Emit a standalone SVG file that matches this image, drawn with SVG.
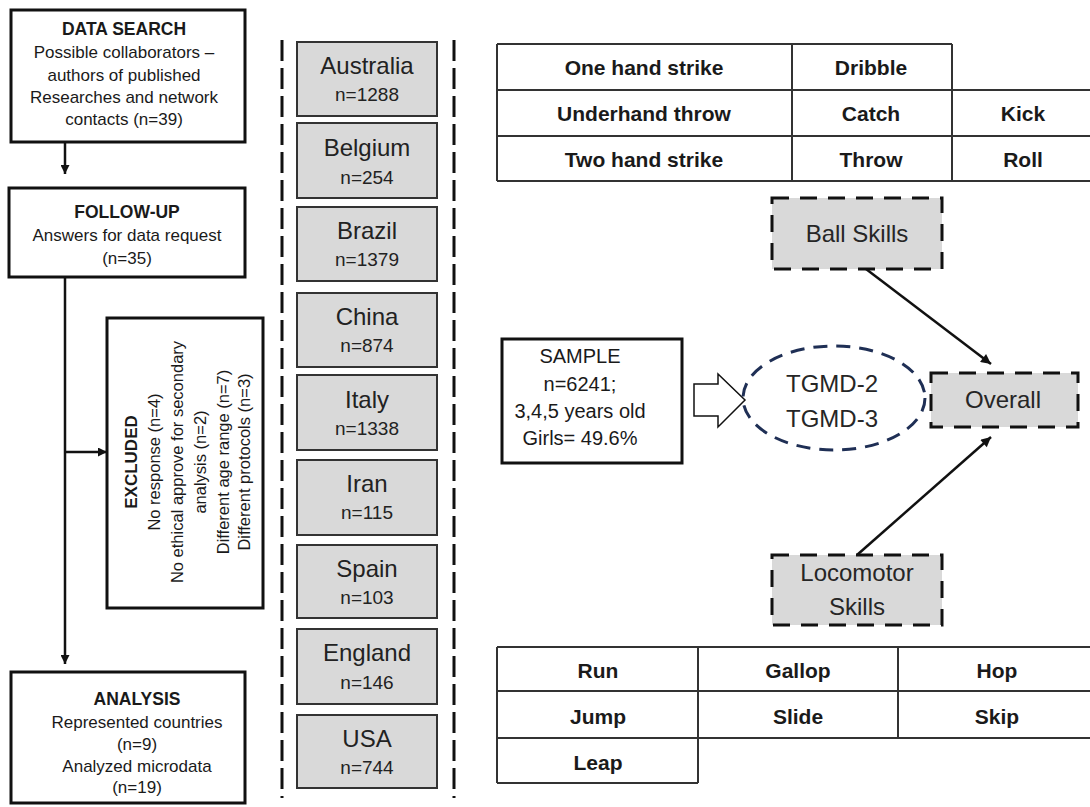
<svg xmlns="http://www.w3.org/2000/svg" width="1090" height="807" viewBox="0 0 1090 807">
  <style>
    text { font-family: "Liberation Sans", Arial, sans-serif; fill: #1a1a1a; text-anchor: middle; }
    .box { fill: #ffffff; stroke: #111; stroke-width: 3; }
    .flow-title { font-size: 17.5px; font-weight: bold; }
    .flow-body { font-size: 17px; }
    .country { fill: #d9d9d9; stroke: #333; stroke-width: 2; }
    .cname { font-size: 24px; fill: #222; }
    .cn { font-size: 19px; fill: #222; }
    .colline { stroke: #111; stroke-width: 3; stroke-dasharray: 21 7; fill: none; }
    .grid { stroke: #333; stroke-width: 2; fill: none; }
    .cell { font-size: 21px; font-weight: bold; }
    .skill { fill: #d9d9d9; stroke: #111; stroke-width: 3; stroke-dasharray: 17 11; }
    .skill-text { font-size: 24px; fill: #262626; }
    .sample { font-size: 20px; }
    .conn { stroke: #111; stroke-width: 2.5; fill: none; }
  </style>
  <defs>
    <marker id="arrow" viewBox="0 0 10 10" refX="10" refY="5" markerWidth="10" markerHeight="9" markerUnits="userSpaceOnUse" orient="auto">
      <path d="M0,0 L10,5 L0,10 z" fill="#111"/>
    </marker>
    <marker id="arrow-lg" viewBox="0 0 10 10" refX="10" refY="5" markerWidth="13" markerHeight="10" markerUnits="userSpaceOnUse" orient="auto">
      <path d="M0,0 L10,5 L0,10 z" fill="#111"/>
    </marker>
  </defs>

  <rect width="1090" height="807" fill="#ffffff"/>

  <!-- Flowchart connectors -->
  <g id="connectors">
    <line class="conn" x1="65" y1="142" x2="65" y2="174" marker-end="url(#arrow)"/>
    <line class="conn" x1="65" y1="277" x2="65" y2="664" marker-end="url(#arrow)"/>
    <line class="conn" x1="65" y1="452" x2="107" y2="452" marker-end="url(#arrow)"/>
    <line class="conn" x1="866" y1="269" x2="991" y2="364" stroke-width="2" marker-end="url(#arrow-lg)"/>
    <line class="conn" x1="857" y1="555" x2="991" y2="437" stroke-width="2" marker-end="url(#arrow-lg)"/>
    <polygon points="694,384 718,384 718,374 745,400 718,427 718,416 694,416" fill="#fff" stroke="#111" stroke-width="1.5"/>
  </g>

  <!-- Left flow -->
  <g id="data-search">
    <rect class="box" x="11" y="10" width="234" height="132"/>
    <text class="flow-title" x="124" y="35">DATA SEARCH</text>
    <text class="flow-body" x="124" y="58">Possible collaborators –</text>
    <text class="flow-body" x="124" y="81">authors of published</text>
    <text class="flow-body" x="124" y="103">Researches and network</text>
    <text class="flow-body" x="124" y="125">contacts (n=39)</text>
  </g>

  <g id="follow-up">
    <rect class="box" x="9" y="188" width="236" height="89"/>
    <text class="flow-title" x="127" y="218">FOLLOW-UP</text>
    <text class="flow-body" x="127" y="241">Answers for data request</text>
    <text class="flow-body" x="127" y="264">(n=35)</text>
  </g>

  <g id="excluded">
    <rect class="box" x="107" y="318" width="156" height="290"/>
    <g transform="translate(0,462) rotate(-90)" font-size="16.5">
      <text x="0" y="137" font-weight="bold" font-size="17">EXCLUDED</text>
      <text x="0" y="160">No response (n=4)</text>
      <text x="0" y="183">No ethical approve for secondary</text>
      <text x="0" y="206">analysis (n=2)</text>
      <text x="0" y="229">Different age range (n=7)</text>
      <text x="0" y="250">Different protocols (n=3)</text>
    </g>
  </g>

  <g id="analysis">
    <rect class="box" x="11" y="672" width="234" height="131"/>
    <text class="flow-title" x="137" y="705">ANALYSIS</text>
    <text class="flow-body" x="137" y="728">Represented countries</text>
    <text class="flow-body" x="137" y="750">(n=9)</text>
    <text class="flow-body" x="137" y="772">Analyzed microdata</text>
    <text class="flow-body" x="137" y="793">(n=19)</text>
  </g>

  <!-- Country column -->
  <g id="country-frame">
    <line class="colline" x1="282" y1="40" x2="282" y2="798"/>
    <line class="colline" x1="454" y1="40" x2="454" y2="798"/>
  </g>
  <g id="australia">
    <rect class="country" x="297" y="42" width="140" height="74"/>
    <text class="cname" x="367" y="74">Australia</text>
    <text class="cn" x="367" y="101">n=1288</text>
  </g>
  <g id="belgium">
    <rect class="country" x="297" y="123" width="140" height="75"/>
    <text class="cname" x="367" y="156">Belgium</text>
    <text class="cn" x="367" y="184">n=254</text>
  </g>
  <g id="brazil">
    <rect class="country" x="297" y="207" width="140" height="74"/>
    <text class="cname" x="367" y="239">Brazil</text>
    <text class="cn" x="367" y="266">n=1379</text>
  </g>
  <g id="china">
    <rect class="country" x="297" y="293" width="140" height="74"/>
    <text class="cname" x="367" y="325">China</text>
    <text class="cn" x="367" y="352">n=874</text>
  </g>
  <g id="italy">
    <rect class="country" x="297" y="375" width="140" height="75"/>
    <text class="cname" x="367" y="408">Italy</text>
    <text class="cn" x="367" y="435">n=1338</text>
  </g>
  <g id="iran">
    <rect class="country" x="297" y="460" width="140" height="75"/>
    <text class="cname" x="367" y="492">Iran</text>
    <text class="cn" x="367" y="519">n=115</text>
  </g>
  <g id="spain">
    <rect class="country" x="297" y="545" width="140" height="73"/>
    <text class="cname" x="367" y="577">Spain</text>
    <text class="cn" x="367" y="604">n=103</text>
  </g>
  <g id="england">
    <rect class="country" x="297" y="629" width="140" height="75"/>
    <text class="cname" x="367" y="661">England</text>
    <text class="cn" x="367" y="689">n=146</text>
  </g>
  <g id="usa">
    <rect class="country" x="297" y="715" width="140" height="73"/>
    <text class="cname" x="367" y="747">USA</text>
    <text class="cn" x="367" y="774">n=744</text>
  </g>

  <!-- Ball skill items -->
  <g id="ball-skill-table">
    <path class="grid" d="M497,44 H952 M497,90 H1092 M497,136 H1092 M497,181 H1092 M497,44 V181 M792,44 V181 M952,44 V181"/>
    <text class="cell" x="644" y="75">One hand strike</text>
    <text class="cell" x="871" y="75">Dribble</text>
    <text class="cell" x="644" y="121">Underhand throw</text>
    <text class="cell" x="871" y="121">Catch</text>
    <text class="cell" x="1023" y="121">Kick</text>
    <text class="cell" x="644" y="167">Two hand strike</text>
    <text class="cell" x="871" y="167">Throw</text>
    <text class="cell" x="1023" y="167">Roll</text>
  </g>

  <g id="ball-skills">
    <rect class="skill" x="772" y="198" width="170" height="71"/>
    <text class="skill-text" x="857" y="242">Ball Skills</text>
  </g>

  <g id="sample">
    <rect class="box" x="502" y="339" width="180" height="124"/>
    <text class="sample" x="580" y="363">SAMPLE</text>
    <text class="sample" x="580" y="391">n=6241;</text>
    <text class="sample" x="580" y="418">3,4,5 years old</text>
    <text class="sample" x="580" y="445">Girls= 49.6%</text>
  </g>

  <g id="tgmd">
    <ellipse cx="834" cy="398" rx="91" ry="52" fill="none" stroke="#1f2f55" stroke-width="3" stroke-dasharray="14 9"/>
    <text class="skill-text" x="832" y="392" fill="#1a1a1a">TGMD-2</text>
    <text class="skill-text" x="832" y="427" fill="#1a1a1a">TGMD-3</text>
  </g>

  <g id="overall">
    <rect class="skill" x="931" y="373" width="147" height="54"/>
    <text class="skill-text" x="1003" y="408">Overall</text>
  </g>

  <g id="locomotor-skills">
    <rect class="skill" x="772" y="555" width="170" height="70"/>
    <text class="skill-text" x="857" y="581">Locomotor</text>
    <text class="skill-text" x="857" y="615">Skills</text>
  </g>

  <!-- Locomotor skill items -->
  <g id="locomotor-table">
    <path class="grid" d="M497,647 H1092 M497,691 H1092 M497,738 H1092 M497,783 H698 M497,647 V783 M698,647 V783 M898,647 V738"/>
    <text class="cell" x="598" y="678">Run</text>
    <text class="cell" x="798" y="678">Gallop</text>
    <text class="cell" x="997" y="678">Hop</text>
    <text class="cell" x="598" y="724">Jump</text>
    <text class="cell" x="798" y="724">Slide</text>
    <text class="cell" x="997" y="724">Skip</text>
    <text class="cell" x="598" y="770">Leap</text>
  </g>
</svg>
